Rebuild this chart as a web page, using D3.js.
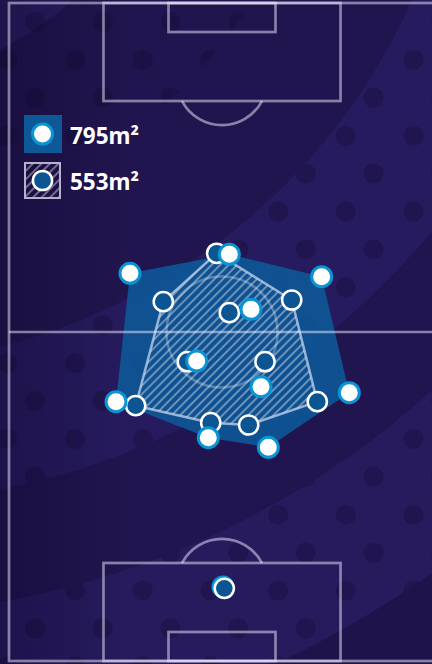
<!DOCTYPE html>
<html>
<head>
<meta charset="utf-8">
<script src="https://cdn.jsdelivr.net/npm/d3@7"></script>
<style>
  html, body { margin: 0; padding: 0; background: #21154f; overflow: hidden; }
  svg { display: block; }
</style>
</head>
<body>
<svg id="chart" width="432" height="664"></svg>
<script>
// Average player positions in metres: x across the 68 m width, y along the 105 m length.
const teamAKeeper = [[34.16, 93.19]];
const teamAOutfield = [
  [19.31, 43.13], [35.17, 40.10], [49.91, 43.68], [54.32, 62.19], [41.39, 70.90],
  [31.81, 69.37], [17.08, 63.62], [38.63, 48.88], [29.96, 57.13], [40.23, 61.23]
];
const teamBKeeper = [[34.37, 93.40]];
const teamBOutfield = [
  [33.15, 39.94], [45.13, 47.39], [49.21, 63.62], [38.26, 67.34], [32.20, 66.97],
  [20.22, 64.26], [24.63, 47.66], [35.17, 49.42], [28.46, 57.24], [40.86, 57.24]
];
// Area covered by each team's outfield shape
const areaLabels = ["795m²", "553m²"];

const W = 432, H = 664;
const svg = d3.select("#chart");
const defs = svg.append("defs");

const x = d3.scaleLinear().domain([0, 68]).range([9, 435]);
const y = d3.scaleLinear().domain([0, 105]).range([3, 661]);
const px = m => x(m) - x(0);

// ---- background: concentric bands with a dotted texture ----
const C = [-150, -250];
const bg = svg.append("g");
bg.append("rect").attr("width", W).attr("height", H).attr("fill", "#1f134b");
const bandFills = [
  [1008, "#271b5e"], [865, "#21154f"], [755, "#271b5f"],
  [615, "#21154f"], [335, "#291d60"]
];
bg.selectAll("circle.band").data(bandFills).join("circle")
  .attr("class", "band")
  .attr("cx", C[0]).attr("cy", C[1])
  .attr("r", d => d[0]).attr("fill", d => d[1]);

const dotBands = [[0, 474], [615, 755], [865, 1008]];
const ring = d3.arc().startAngle(0).endAngle(2 * Math.PI);
dotBands.forEach((b, i) => {
  defs.append("clipPath").attr("id", "band" + i)
    .append("path")
    .attr("transform", `translate(${C[0]},${C[1]})`)
    .attr("d", ring({ innerRadius: b[0], outerRadius: b[1] }));
});
const grid = [];
for (let j = 0; j < 18; j++) {
  const gy = 22 + 37.9 * j;
  const x0 = j % 2 === 0 ? 35 : 7.3;
  for (let k = -1; k < 8; k++) grid.push([x0 + 67.7 * k, gy]);
}
dotBands.forEach((b, i) => {
  const inBand = grid.filter(p => {
    const r = Math.hypot(p[0] - C[0], p[1] - C[1]);
    return r > b[0] - 12 && r < b[1] + 12;
  });
  bg.append("g").attr("clip-path", `url(#band${i})`)
    .selectAll("circle").data(inBand).join("circle")
    .attr("cx", d => d[0]).attr("cy", d => d[1]).attr("r", 10)
    .attr("fill", "#12082e").attr("fill-opacity", 0.32);
});

// darker left edge
const vg = defs.append("linearGradient").attr("id", "leftShade")
  .attr("x1", 0).attr("x2", 1).attr("y1", 0).attr("y2", 0);
vg.append("stop").attr("offset", 0).attr("stop-color", "#0c0426").attr("stop-opacity", 0.35);
vg.append("stop").attr("offset", 1).attr("stop-color", "#0c0426").attr("stop-opacity", 0);
bg.append("rect").attr("width", 130).attr("height", H).attr("fill", "url(#leftShade)");

// ---- hatch pattern for team B ----
const hatch = defs.append("pattern").attr("id", "hatch")
  .attr("patternUnits", "userSpaceOnUse").attr("width", 6).attr("height", 6)
  .attr("patternTransform", "rotate(45)");
hatch.append("line").attr("x1", 1).attr("x2", 1).attr("y1", 0).attr("y2", 6)
  .attr("stroke", "#ffffff").attr("stroke-opacity", 0.38).attr("stroke-width", 2);

// ---- team shapes ----
const toPx = p => [x(p[0]), y(p[1])];
const hullA = d3.polygonHull(teamAOutfield.map(toPx));
const hullB = d3.polygonHull(teamBOutfield.map(toPx));
const shape = pts => "M" + pts.map(p => p.join(",")).join("L") + "Z";

svg.append("path").attr("d", shape(hullA))
  .attr("fill", "#0d5897").attr("fill-opacity", 0.9);
svg.append("path").attr("d", shape(hullB))
  .attr("fill", "url(#hatch)")
  .attr("stroke", "#c4d4ee").attr("stroke-opacity", 0.75)
  .attr("stroke-width", 2.5).attr("stroke-linejoin", "round");

// ---- pitch markings ----
const lines = svg.append("g").attr("fill", "none")
  .attr("stroke", "#f2eeff").attr("stroke-opacity", 0.5).attr("stroke-width", 2.7);
lines.append("rect").attr("x", x(0)).attr("y", y(0))
  .attr("width", x(68) - x(0)).attr("height", y(105) - y(0));
lines.append("line").attr("x1", x(0)).attr("x2", x(68))
  .attr("y1", y(52.5)).attr("y2", y(52.5));

const boxHalf = 18.92, boxDepth = 15.64, sixHalf = 8.54, sixDepth = 4.63;
[[0, 1], [105, -1]].forEach(([end, dir]) => {
  const y0 = y(end), yb = y(end + dir * boxDepth), ys = y(end + dir * sixDepth);
  lines.append("rect").attr("x", x(34 - boxHalf)).attr("width", px(2 * boxHalf))
    .attr("y", Math.min(y0, yb)).attr("height", Math.abs(yb - y0));
  lines.append("rect").attr("x", x(34 - sixHalf)).attr("width", px(2 * sixHalf))
    .attr("y", Math.min(y0, ys)).attr("height", Math.abs(ys - y0));
  // arc of the penalty area
  const spot = end + dir * 12.29, rad = 7.2;
  const cut = Math.acos((boxDepth - 12.29) / rad);
  const mid = dir > 0 ? Math.PI : 0;
  lines.append("path")
    .attr("transform", `translate(${x(34)},${y(spot)})`)
    .attr("d", d3.arc()({
      innerRadius: px(rad), outerRadius: px(rad),
      startAngle: mid - cut, endAngle: mid + cut
    }));
});
svg.append("circle").attr("cx", x(34)).attr("cy", y(52.5)).attr("r", px(8.86))
  .attr("fill", "none").attr("stroke", "#ffffff")
  .attr("stroke-opacity", 0.28).attr("stroke-width", 2.5);

// ---- players ----
function drawA(sel, data) {
  sel.selectAll(null).data(data).join("circle")
    .attr("cx", d => x(d[0])).attr("cy", d => y(d[1])).attr("r", 10)
    .attr("fill", "#ffffff").attr("stroke", "#0a94d4").attr("stroke-width", 3);
}
function drawB(sel, data) {
  sel.selectAll(null).data(data).join("circle")
    .attr("cx", d => x(d[0])).attr("cy", d => y(d[1])).attr("r", 9.6)
    .attr("fill", "#0a5592").attr("stroke", "#ffffff").attr("stroke-width", 2.5);
}
const keepers = svg.append("g");
drawA(keepers.append("g"), teamAKeeper);
drawB(keepers.append("g"), teamBKeeper);
const outfield = svg.append("g");
drawB(outfield.append("g"), teamBOutfield);
drawA(outfield.append("g"), teamAOutfield);

// ---- legend ----
const legend = svg.append("g");
legend.append("rect").attr("x", 24).attr("y", 115).attr("width", 38).attr("height", 38)
  .attr("fill", "#0d5897");
drawA(legend.append("g").attr("transform", `translate(${42.5 - x(0)},${134 - y(0)})`), [[0, 0]]);
legend.append("rect").attr("x", 25).attr("y", 163).attr("width", 35).attr("height", 35)
  .attr("fill", "url(#hatch)").attr("stroke", "#b7b1cb").attr("stroke-width", 2);
drawB(legend.append("g").attr("transform", `translate(${42.5 - x(0)},${180.5 - y(0)})`), [[0, 0]]);
legend.selectAll("text").data(areaLabels).join("text")
  .attr("x", 70).attr("y", (d, i) => 144 + i * 46)
  .attr("fill", "#ffffff")
  .attr("font-family", "'Noto Sans', 'Open Sans', sans-serif")
  .attr("font-weight", 700).attr("font-size", 22.5)
  .text(d => d);
</script>
</body>
</html>
